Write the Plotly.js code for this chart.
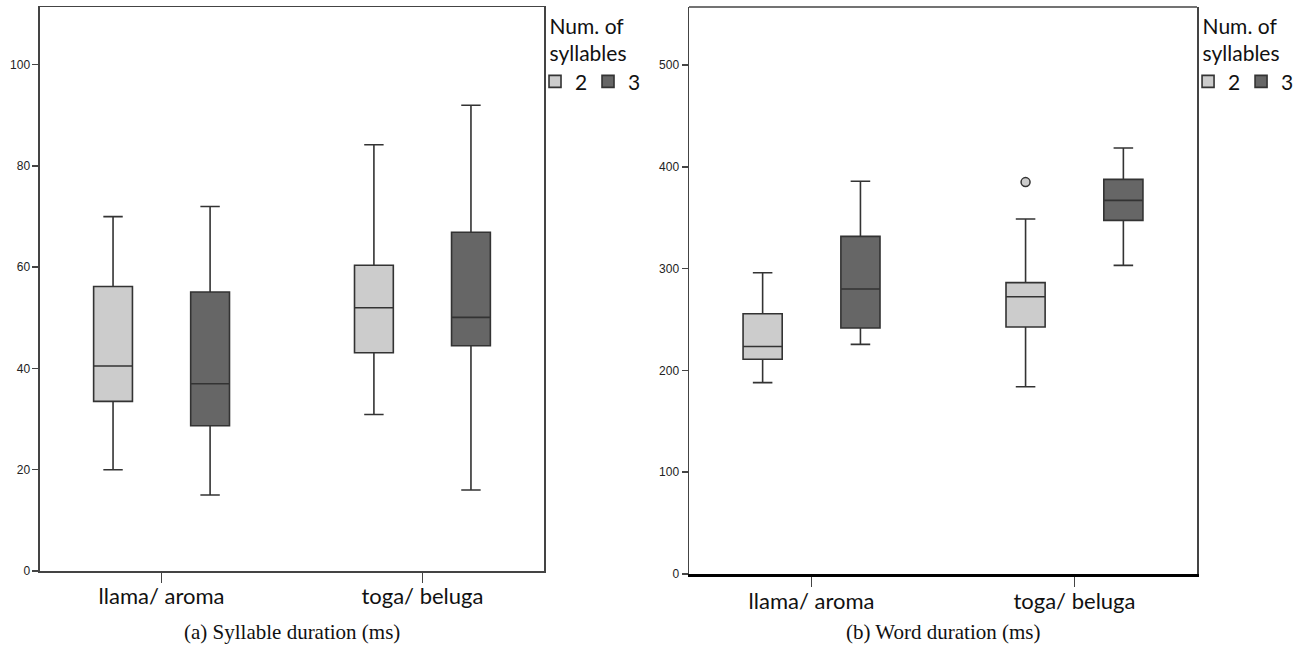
<!DOCTYPE html>
<html>
<head>
<meta charset="utf-8">
<script src="https://cdn.plot.ly/plotly-3.0.1.min.js"></script>
<style>html,body{margin:0;padding:0;background:#fff;}#chart{width:1297px;height:663px;}</style>
</head>
<body>
<div id="chart"></div>
<script>
// Categories
const categories = ["llama/ aroma", "toga/ beluga"];
const seriesNames = ["2", "3"];

// (a) Syllable duration (ms)
const syl2_lower = [20, 30.9];
const syl2_q1 = [33.5, 43.1];
const syl2_median = [40.5, 52];
const syl2_q3 = [56.2, 60.4];
const syl2_upper = [70, 84.2];

const syl3_lower = [15, 16];
const syl3_q1 = [28.7, 44.5];
const syl3_median = [37, 50.1];
const syl3_q3 = [55.1, 66.9];
const syl3_upper = [72, 92];

// (b) Word duration (ms)
const word2_lower = [188, 184];
const word2_q1 = [211, 242.6];
const word2_median = [223.5, 272.4];
const word2_q3 = [255.7, 286.2];
const word2_upper = [296, 348.7];
const word2_outliers = [[null], [385]];

const word3_lower = [225.6, 303.2];
const word3_q1 = [241.7, 347.4];
const word3_median = [280, 367];
const word3_q3 = [331.7, 387.7];
const word3_upper = [385.8, 418.5];

const yTicksA = [0, 20, 40, 60, 80, 100];
const yTicksB = [0, 100, 200, 300, 400, 500];

const captions = ["(a) Syllable duration (ms)", "(b) Word duration (ms)"];
const legendTitle = "Num. of<br>syllables";

const lightFill = "#cccccc";
const darkFill = "#666666";
const boxLine = "#333333";

function boxTrace(name, group, fill, q1, med, q3, lo, hi, xa, ya, legend, pts) {
  const t = {
    type: "box",
    name: name,
    x: categories,
    q1: q1, median: med, q3: q3,
    lowerfence: lo, upperfence: hi,
    fillcolor: fill,
    line: {color: boxLine, width: 1.6},
    whiskerwidth: 0.5,
    xaxis: xa, yaxis: ya,
    offsetgroup: group,
    alignmentgroup: xa,
    legend: legend,
    showlegend: true,
    hoverinfo: "skip"
  };
  if (pts) {
    t.y = pts;
    t.boxpoints = "outliers";
    t.jitter = 0;
    t.pointpos = 0;
    t.marker = {color: fill, size: 9, line: {color: boxLine, width: 1.5}};
  } else {
    t.boxpoints = false;
  }
  return t;
}

const data = [
  boxTrace(seriesNames[0], "g2", lightFill, syl2_q1, syl2_median, syl2_q3, syl2_lower, syl2_upper, "x", "y", "legend"),
  boxTrace(seriesNames[1], "g3", darkFill, syl3_q1, syl3_median, syl3_q3, syl3_lower, syl3_upper, "x", "y", "legend"),
  boxTrace(seriesNames[0], "g2", lightFill, word2_q1, word2_median, word2_q3, word2_lower, word2_upper, "x2", "y2", "legend2", word2_outliers),
  boxTrace(seriesNames[1], "g3", darkFill, word3_q1, word3_median, word3_q3, word3_lower, word3_upper, "x2", "y2", "legend2")
];

const catFont = {family: "Lato, 'Open Sans', sans-serif", size: 22, color: "#111"};
const tickFont = {family: "'Liberation Sans', Arial, sans-serif", size: 12, color: "#222"};
const frameColor = "#444444";

const xCommon = {
  type: "category",
  range: [-0.466, 1.466],
  ticks: "outside", ticklen: 10, tickwidth: 1.5, tickcolor: frameColor,
  tickfont: catFont,
  ticklabelstandoff: -5,
  showgrid: false, zeroline: false, fixedrange: true
};
const yCommon = {
  ticks: "outside", ticklen: 6, tickwidth: 1.5, tickcolor: frameColor,
  tickfont: tickFont,
  showgrid: false, zeroline: false,
  showline: true, linecolor: frameColor, linewidth: 1.5, mirror: true,
  fixedrange: true
};

const legFont = {family: "Lato, 'Open Sans', sans-serif", size: 21, color: "#111"};
const legendCommon = {
  orientation: "h",
  yanchor: "top", xanchor: "left",
  y: 0.99,
  font: legFont,
  title: {text: legendTitle, side: "top center", font: legFont},
  bgcolor: "rgba(0,0,0,0)",
  entrywidth: 8,
  tracegroupgap: 0
};

const layout = {
  width: 1297, height: 663,
  margin: {l: 0, r: 0, t: 0, b: 0},
  paper_bgcolor: "#fff", plot_bgcolor: "#fff",
  boxmode: "group",
  boxgap: 0.256,
  boxgroupgap: 0.6,
  xaxis: Object.assign({}, xCommon, {domain: [0.03084, 0.41943], anchor: "y",
    showline: true, linecolor: frameColor, linewidth: 1.5, mirror: true}),
  yaxis: Object.assign({}, yCommon, {domain: [0.13876, 0.98944], range: [0, 111.4], tickvals: yTicksA, anchor: "x"}),
  xaxis2: Object.assign({}, xCommon, {domain: [0.53123, 0.9229], anchor: "y2",
    showline: true, linecolor: "#000", linewidth: 3.5, mirror: false}),
  yaxis2: Object.assign({}, yCommon, {domain: [0.13424, 0.98944], range: [0, 557], tickvals: yTicksB, anchor: "x2"}),
  legend: Object.assign({}, legendCommon, {x: 0.4125}),
  legend2: Object.assign({}, legendCommon, {x: 0.916}),
  shapes: [
    {type: "line", xref: "x2 domain", yref: "y2 domain", x0: 0, x1: 1, y0: 1, y1: 1,
     line: {color: frameColor, width: 1.5}}
  ],
  annotations: [
    {text: captions[0], xref: "x domain", yref: "paper", x: 0.5, y: 1 - 632/663, xanchor: "center", yanchor: "middle",
     showarrow: false, font: {family: "'Liberation Serif', 'DejaVu Serif', serif", size: 21, color: "#111"}},
    {text: captions[1], xref: "x2 domain", yref: "paper", x: 0.5, y: 1 - 632/663, xanchor: "center", yanchor: "middle",
     showarrow: false, font: {family: "'Liberation Serif', 'DejaVu Serif', serif", size: 21, color: "#111"}}
  ],
  showlegend: true
};

Plotly.newPlot("chart", data, layout, {staticPlot: true, displayModeBar: false});
</script>
</body>
</html>
